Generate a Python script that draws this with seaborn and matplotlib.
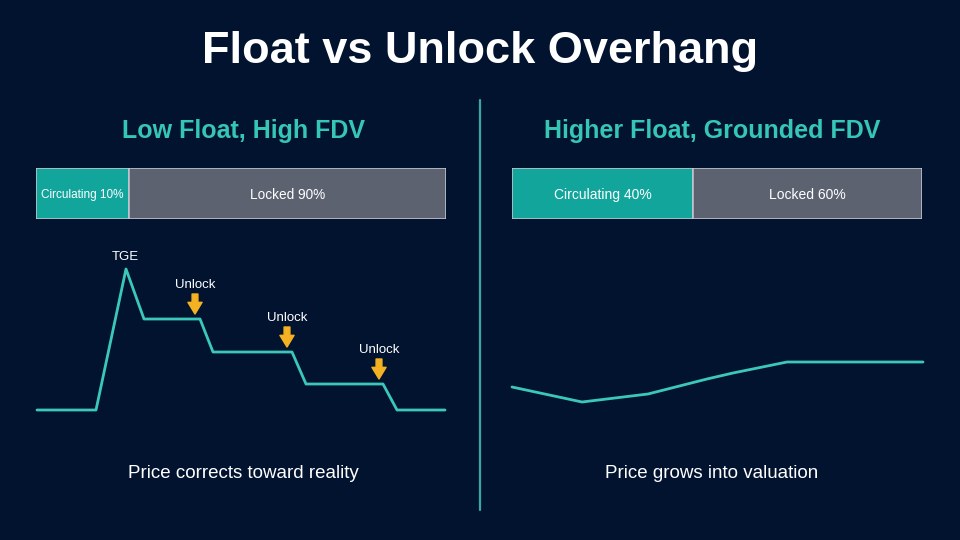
import matplotlib
matplotlib.use('Agg')
import matplotlib.pyplot as plt
import seaborn as sns
import pandas as pd

# === Data ===
title = "Float vs Unlock Overhang"
panel_titles = ["Low Float, High FDV", "Higher Float, Grounded FDV"]
captions = ["Price corrects toward reality", "Price grows into valuation"]

# supply split bars (label text and drawn segment widths)
left_bar_labels = ["Circulating 10%", "Locked 90%"]
left_bar_widths = [22.7, 77.3]
right_bar_labels = ["Circulating 40%", "Locked 60%"]
right_bar_widths = [44.1, 55.9]

# price paths (time, price) in arbitrary units
left_time = [0, 59, 89, 107, 163, 176, 255, 269, 346, 360, 408]
left_price = [0, 0, 141, 91, 91, 58, 58, 26, 26, 0, 0]
right_time = [0, 70, 136, 195, 221, 275, 411]
right_price = [23, 8, 16, 31, 37, 48, 48]

# event markers on the left path
tge_time, tge_price = 89, 141
unlock_times = [158, 250, 342]
unlock_prices = [91, 58, 26]

# === Style ===
BG = '#021330'
TEAL_TEXT = '#35c6b6'
TEAL_LINE = '#3cc8b8'
TEAL_BAR = '#12a59c'
GREY_BAR = '#5d6271'
ORANGE = '#f4b223'

sns.set_theme(style='white')
plt.rcParams['font.family'] = ['Liberation Sans', 'DejaVu Sans']

fig = plt.figure(figsize=(9.6, 5.4), dpi=100)
fig.patch.set_facecolor(BG)

W, H = 960, 540


def px_axes(x0, y0, x1, y1):
    # axes placed by pixel box (top-left origin)
    ax = fig.add_axes([x0 / W, 1 - y1 / H, (x1 - x0) / W, (y1 - y0) / H])
    ax.set_facecolor('none')
    ax.set_axis_off()
    return ax


# === Title, subtitles, captions ===
fig.text(0.5, 1 - 52 / H, title, ha='center', va='center', color='white',
         fontsize=32.5, fontweight='bold')
for cx, sub, cap in zip([243, 712], panel_titles, captions):
    fig.text(cx / W, 1 - 131 / H, sub, ha='center', va='center', color=TEAL_TEXT,
             fontsize=18, fontweight='bold')
    fig.text(cx / W, 1 - 474 / H, cap, ha='center', va='center', color='white',
             fontsize=13.5)

# divider
fig.add_artist(plt.Line2D([0.5, 0.5], [1 - 100 / H, 1 - 510 / H],
                          transform=fig.transFigure, color='#3aa7a4', lw=1.6))

# === Supply bars ===
def supply_bar(ax, widths, labels, sizes):
    left = 0
    for w, lab, col, fs in zip(widths, labels, [TEAL_BAR, GREY_BAR], sizes):
        ax.barh(0, w, left=left, height=1.0, color=col, edgecolor='#c3c7cf', linewidth=1.1)
        ax.text(left + w / 2, -0.03, lab, ha='center', va='center', color='white', fontsize=fs)
        left += w
    ax.set_xlim(0, 100)
    ax.set_ylim(-0.5, 0.5)


ax_b1 = px_axes(36, 168, 446, 219)
supply_bar(ax_b1, left_bar_widths, left_bar_labels, [8.5, 9.8])
ax_b2 = px_axes(512, 168, 922, 219)
supply_bar(ax_b2, right_bar_widths, right_bar_labels, [10, 10])

# === Price paths ===
left_df = pd.DataFrame({'time': left_time, 'price': left_price})
right_df = pd.DataFrame({'time': right_time, 'price': right_price})

ax_l = px_axes(37, 269, 445, 410)
sns.lineplot(data=left_df, x='time', y='price', ax=ax_l, color=TEAL_LINE, lw=2,
             sort=False, clip_on=False)
ax_l.set_xlim(0, 408)
ax_l.set_ylim(0, 141)
ax_l.set_axis_off()

ax_l.text(tge_time - 1, tge_price + 12, "TGE", ha='center', va='center',
          color='white', fontsize=9.5)
for t, p in zip(unlock_times, unlock_prices):
    ax_l.annotate('', xy=(t, p + 5), xytext=(t, p + 25),
                  arrowprops=dict(arrowstyle='simple,head_length=0.7,head_width=0.85,tail_width=0.35',
                                  color=ORANGE, mutation_scale=12, shrinkA=0, shrinkB=0),
                  annotation_clip=False)
    ax_l.text(t, p + 34, "Unlock", ha='center', va='center', color='white', fontsize=9.5)

ax_r = px_axes(512, 269, 923, 410)
sns.lineplot(data=right_df, x='time', y='price', ax=ax_r, color=TEAL_LINE, lw=2,
             sort=False, clip_on=False)
ax_r.set_xlim(0, 411)
ax_r.set_ylim(0, 141)
ax_r.set_axis_off()

plt.savefig('out.png', dpi=100, facecolor=BG)
plt.close()
print("Plot created, no errors")
